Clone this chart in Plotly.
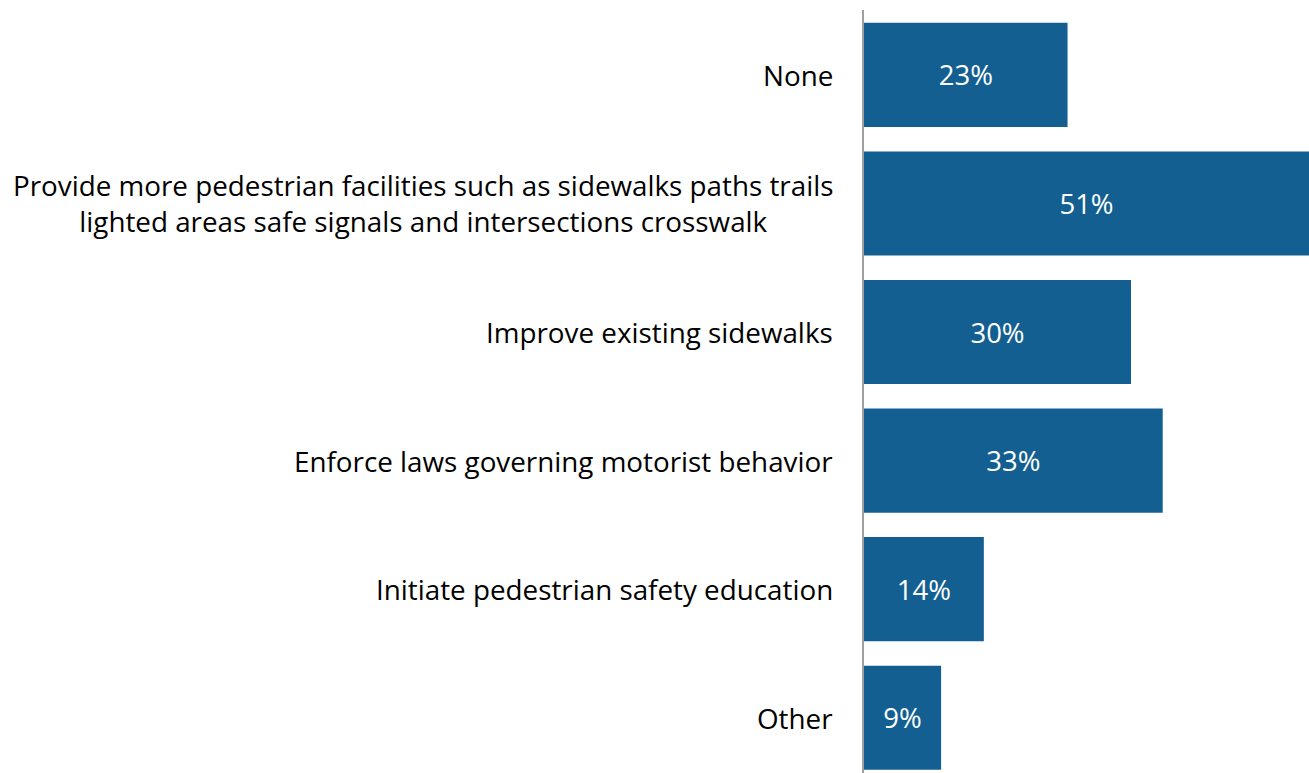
import plotly.graph_objects as go

categories = [
    "None",
    "Provide more pedestrian facilities such as sidewalks paths trails<br>lighted areas safe signals and intersections crosswalk",
    "Improve existing sidewalks",
    "Enforce laws governing motorist behavior",
    "Initiate pedestrian safety education",
    "Other",
]
values = [23.1, 50.5, 30.3, 33.9, 13.6, 8.75]
value_labels = ["23%", "51%", "30%", "33%", "14%", "9%"]

FONT = "Open Sans"
BAR_COLOR = "#135f91"

fig = go.Figure()
fig.add_trace(go.Bar(
    y=categories,
    x=values,
    orientation="h",
    marker=dict(color=BAR_COLOR, line=dict(width=0)),
    text=value_labels,
    textposition="inside",
    insidetextanchor="middle",
    textangle=0,
    textfont=dict(family=FONT, size=27.5, color="white"),
    hoverinfo="skip",
    cliponaxis=False,
))

for cat in categories:
    fig.add_annotation(
        x=0, xref="paper", y=cat, yref="y",
        text=cat, showarrow=False,
        xanchor="right", yanchor="middle", align="center",
        xshift=-29,
        font=dict(family=FONT, size=27.8, color="black"),
    )

fig.update_layout(
    width=1309, height=773,
    margin=dict(l=864, r=0, t=10, b=0),
    paper_bgcolor="white", plot_bgcolor="white",
    bargap=0.19,
    showlegend=False,
    xaxis=dict(range=[0, 50.5], showgrid=False, zeroline=False,
               showticklabels=False, showline=False, ticks=""),
    yaxis=dict(type="category", categoryorder="array", categoryarray=categories,
               range=[5.43, -0.505], autorange=False,
               showgrid=False, zeroline=False, showticklabels=False,
               showline=True, linecolor="#a0a0a0", linewidth=2, ticks=""),
)

fig.write_html("out.html", config={"displayModeBar": False},
               post_script="document.body.style.margin='0';")
